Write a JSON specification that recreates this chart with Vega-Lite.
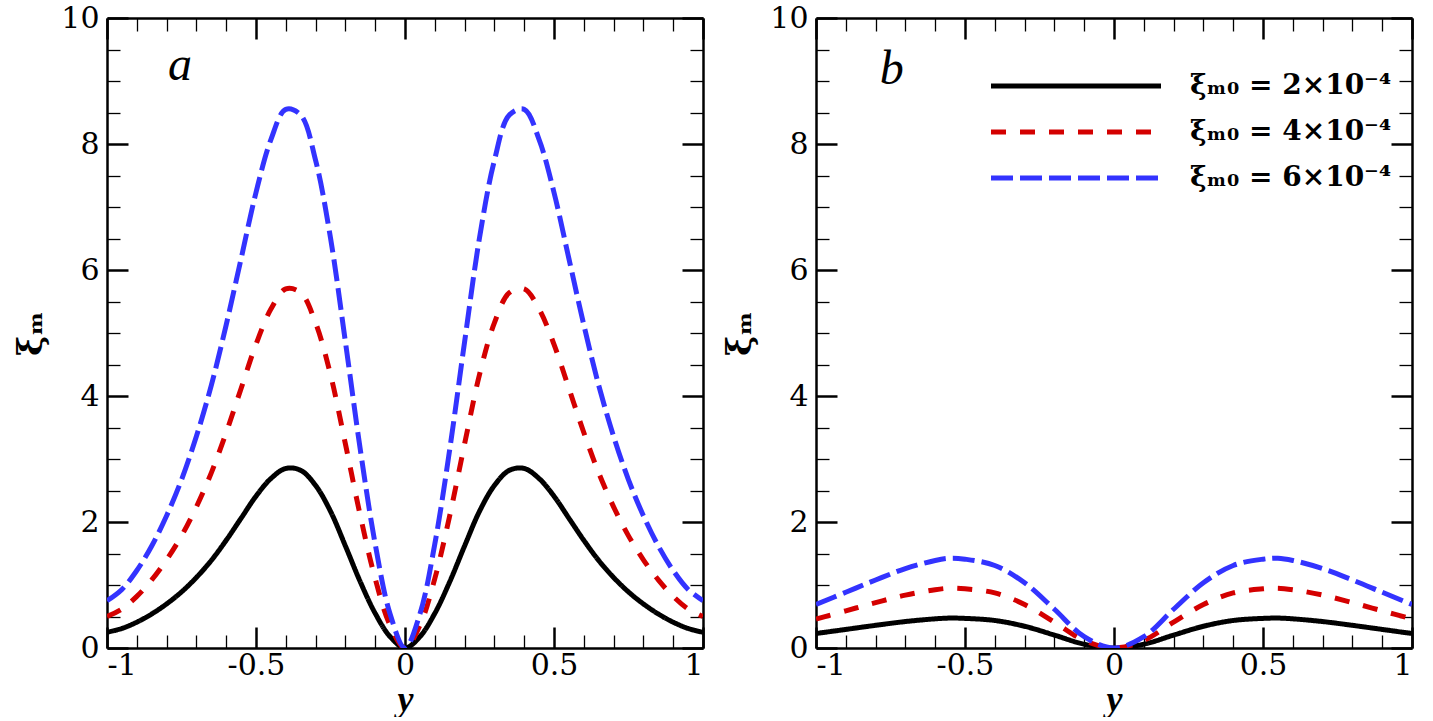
{
  "$schema": "https://vega.github.io/schema/vega-lite/v6.json",
  "description": "Two panels of xi_m against y for three xi_m0 values.",
  "padding": {"left": 14, "top": 3, "right": 5, "bottom": 0},
  "spacing": 17,
  "datasets": {
    "a": [
      {"y": -1, "xi": 0.25, "k": "2"}, {"y": -0.95, "xi": 0.31, "k": "2"}, {"y": -0.9, "xi": 0.41, "k": "2"}, {"y": -0.85, "xi": 0.54, "k": "2"},
      {"y": -0.8, "xi": 0.70, "k": "2"}, {"y": -0.75, "xi": 0.89, "k": "2"}, {"y": -0.7, "xi": 1.12, "k": "2"}, {"y": -0.65, "xi": 1.39, "k": "2"},
      {"y": -0.6, "xi": 1.71, "k": "2"}, {"y": -0.55, "xi": 2.06, "k": "2"}, {"y": -0.5, "xi": 2.41, "k": "2"}, {"y": -0.45, "xi": 2.69, "k": "2"},
      {"y": -0.4, "xi": 2.85, "k": "2"}, {"y": -0.35, "xi": 2.82, "k": "2"}, {"y": -0.3, "xi": 2.58, "k": "2"}, {"y": -0.25, "xi": 2.17, "k": "2"},
      {"y": -0.2, "xi": 1.62, "k": "2"}, {"y": -0.15, "xi": 1.05, "k": "2"}, {"y": -0.1, "xi": 0.55, "k": "2"}, {"y": -0.05, "xi": 0.18, "k": "2"},
      {"y": 0, "xi": 0, "k": "2"},
      {"y": 0.05, "xi": 0.18, "k": "2"}, {"y": 0.1, "xi": 0.55, "k": "2"}, {"y": 0.15, "xi": 1.05, "k": "2"}, {"y": 0.2, "xi": 1.62, "k": "2"},
      {"y": 0.25, "xi": 2.17, "k": "2"}, {"y": 0.3, "xi": 2.58, "k": "2"}, {"y": 0.35, "xi": 2.82, "k": "2"}, {"y": 0.4, "xi": 2.85, "k": "2"},
      {"y": 0.45, "xi": 2.69, "k": "2"}, {"y": 0.5, "xi": 2.41, "k": "2"}, {"y": 0.55, "xi": 2.06, "k": "2"}, {"y": 0.6, "xi": 1.71, "k": "2"},
      {"y": 0.65, "xi": 1.39, "k": "2"}, {"y": 0.7, "xi": 1.12, "k": "2"}, {"y": 0.75, "xi": 0.89, "k": "2"}, {"y": 0.8, "xi": 0.70, "k": "2"},
      {"y": 0.85, "xi": 0.54, "k": "2"}, {"y": 0.9, "xi": 0.41, "k": "2"}, {"y": 0.95, "xi": 0.31, "k": "2"}, {"y": 1, "xi": 0.25, "k": "2"},

      {"y": -1, "xi": 0.50, "k": "4"}, {"y": -0.95, "xi": 0.62, "k": "4"}, {"y": -0.9, "xi": 0.82, "k": "4"}, {"y": -0.85, "xi": 1.08, "k": "4"},
      {"y": -0.8, "xi": 1.40, "k": "4"}, {"y": -0.75, "xi": 1.78, "k": "4"}, {"y": -0.7, "xi": 2.24, "k": "4"}, {"y": -0.65, "xi": 2.78, "k": "4"},
      {"y": -0.6, "xi": 3.42, "k": "4"}, {"y": -0.55, "xi": 4.12, "k": "4"}, {"y": -0.5, "xi": 4.82, "k": "4"}, {"y": -0.45, "xi": 5.38, "k": "4"},
      {"y": -0.4, "xi": 5.70, "k": "4"}, {"y": -0.35, "xi": 5.64, "k": "4"}, {"y": -0.3, "xi": 5.16, "k": "4"}, {"y": -0.25, "xi": 4.34, "k": "4"},
      {"y": -0.2, "xi": 3.24, "k": "4"}, {"y": -0.15, "xi": 2.10, "k": "4"}, {"y": -0.1, "xi": 1.10, "k": "4"}, {"y": -0.05, "xi": 0.36, "k": "4"},
      {"y": 0, "xi": 0, "k": "4"},
      {"y": 0.05, "xi": 0.36, "k": "4"}, {"y": 0.1, "xi": 1.10, "k": "4"}, {"y": 0.15, "xi": 2.10, "k": "4"}, {"y": 0.2, "xi": 3.24, "k": "4"},
      {"y": 0.25, "xi": 4.34, "k": "4"}, {"y": 0.3, "xi": 5.16, "k": "4"}, {"y": 0.35, "xi": 5.64, "k": "4"}, {"y": 0.4, "xi": 5.70, "k": "4"},
      {"y": 0.45, "xi": 5.38, "k": "4"}, {"y": 0.5, "xi": 4.82, "k": "4"}, {"y": 0.55, "xi": 4.12, "k": "4"}, {"y": 0.6, "xi": 3.42, "k": "4"},
      {"y": 0.65, "xi": 2.78, "k": "4"}, {"y": 0.7, "xi": 2.24, "k": "4"}, {"y": 0.75, "xi": 1.78, "k": "4"}, {"y": 0.8, "xi": 1.40, "k": "4"},
      {"y": 0.85, "xi": 1.08, "k": "4"}, {"y": 0.9, "xi": 0.82, "k": "4"}, {"y": 0.95, "xi": 0.62, "k": "4"}, {"y": 1, "xi": 0.50, "k": "4"},

      {"y": -1, "xi": 0.75, "k": "6"}, {"y": -0.95, "xi": 0.93, "k": "6"}, {"y": -0.9, "xi": 1.23, "k": "6"}, {"y": -0.85, "xi": 1.62, "k": "6"},
      {"y": -0.8, "xi": 2.10, "k": "6"}, {"y": -0.75, "xi": 2.67, "k": "6"}, {"y": -0.7, "xi": 3.36, "k": "6"}, {"y": -0.65, "xi": 4.17, "k": "6"},
      {"y": -0.6, "xi": 5.13, "k": "6"}, {"y": -0.55, "xi": 6.18, "k": "6"}, {"y": -0.5, "xi": 7.23, "k": "6"}, {"y": -0.45, "xi": 8.07, "k": "6"},
      {"y": -0.4, "xi": 8.55, "k": "6"}, {"y": -0.35, "xi": 8.46, "k": "6"}, {"y": -0.3, "xi": 7.74, "k": "6"}, {"y": -0.25, "xi": 6.51, "k": "6"},
      {"y": -0.2, "xi": 4.86, "k": "6"}, {"y": -0.15, "xi": 3.15, "k": "6"}, {"y": -0.1, "xi": 1.65, "k": "6"}, {"y": -0.05, "xi": 0.54, "k": "6"},
      {"y": 0, "xi": 0, "k": "6"},
      {"y": 0.05, "xi": 0.54, "k": "6"}, {"y": 0.1, "xi": 1.65, "k": "6"}, {"y": 0.15, "xi": 3.15, "k": "6"}, {"y": 0.2, "xi": 4.86, "k": "6"},
      {"y": 0.25, "xi": 6.51, "k": "6"}, {"y": 0.3, "xi": 7.74, "k": "6"}, {"y": 0.35, "xi": 8.46, "k": "6"}, {"y": 0.4, "xi": 8.55, "k": "6"},
      {"y": 0.45, "xi": 8.07, "k": "6"}, {"y": 0.5, "xi": 7.23, "k": "6"}, {"y": 0.55, "xi": 6.18, "k": "6"}, {"y": 0.6, "xi": 5.13, "k": "6"},
      {"y": 0.65, "xi": 4.17, "k": "6"}, {"y": 0.7, "xi": 3.36, "k": "6"}, {"y": 0.75, "xi": 2.67, "k": "6"}, {"y": 0.8, "xi": 2.10, "k": "6"},
      {"y": 0.85, "xi": 1.62, "k": "6"}, {"y": 0.9, "xi": 1.23, "k": "6"}, {"y": 0.95, "xi": 0.93, "k": "6"}, {"y": 1, "xi": 0.75, "k": "6"}
    ],
    "b": [
      {"y": -1, "xi": 0.23, "k": "2"}, {"y": -0.9, "xi": 0.295, "k": "2"}, {"y": -0.8, "xi": 0.36, "k": "2"}, {"y": -0.7, "xi": 0.42, "k": "2"},
      {"y": -0.6, "xi": 0.463, "k": "2"}, {"y": -0.55, "xi": 0.475, "k": "2"}, {"y": -0.5, "xi": 0.47, "k": "2"}, {"y": -0.4, "xi": 0.437, "k": "2"},
      {"y": -0.3, "xi": 0.345, "k": "2"}, {"y": -0.2, "xi": 0.205, "k": "2"}, {"y": -0.1, "xi": 0.06, "k": "2"}, {"y": 0, "xi": 0, "k": "2"},
      {"y": 0.1, "xi": 0.06, "k": "2"}, {"y": 0.2, "xi": 0.205, "k": "2"}, {"y": 0.3, "xi": 0.345, "k": "2"}, {"y": 0.4, "xi": 0.437, "k": "2"},
      {"y": 0.5, "xi": 0.47, "k": "2"}, {"y": 0.55, "xi": 0.475, "k": "2"}, {"y": 0.6, "xi": 0.463, "k": "2"}, {"y": 0.7, "xi": 0.42, "k": "2"},
      {"y": 0.8, "xi": 0.36, "k": "2"}, {"y": 0.9, "xi": 0.295, "k": "2"}, {"y": 1, "xi": 0.23, "k": "2"},

      {"y": -1, "xi": 0.46, "k": "4"}, {"y": -0.9, "xi": 0.59, "k": "4"}, {"y": -0.8, "xi": 0.72, "k": "4"}, {"y": -0.7, "xi": 0.84, "k": "4"},
      {"y": -0.6, "xi": 0.926, "k": "4"}, {"y": -0.55, "xi": 0.95, "k": "4"}, {"y": -0.5, "xi": 0.94, "k": "4"}, {"y": -0.4, "xi": 0.874, "k": "4"},
      {"y": -0.3, "xi": 0.69, "k": "4"}, {"y": -0.2, "xi": 0.41, "k": "4"}, {"y": -0.1, "xi": 0.12, "k": "4"}, {"y": 0, "xi": 0, "k": "4"},
      {"y": 0.1, "xi": 0.12, "k": "4"}, {"y": 0.2, "xi": 0.41, "k": "4"}, {"y": 0.3, "xi": 0.69, "k": "4"}, {"y": 0.4, "xi": 0.874, "k": "4"},
      {"y": 0.5, "xi": 0.94, "k": "4"}, {"y": 0.55, "xi": 0.95, "k": "4"}, {"y": 0.6, "xi": 0.926, "k": "4"}, {"y": 0.7, "xi": 0.84, "k": "4"},
      {"y": 0.8, "xi": 0.72, "k": "4"}, {"y": 0.9, "xi": 0.59, "k": "4"}, {"y": 1, "xi": 0.46, "k": "4"},

      {"y": -1, "xi": 0.69, "k": "6"}, {"y": -0.9, "xi": 0.885, "k": "6"}, {"y": -0.8, "xi": 1.08, "k": "6"}, {"y": -0.7, "xi": 1.26, "k": "6"},
      {"y": -0.6, "xi": 1.39, "k": "6"}, {"y": -0.55, "xi": 1.425, "k": "6"}, {"y": -0.5, "xi": 1.41, "k": "6"}, {"y": -0.4, "xi": 1.31, "k": "6"},
      {"y": -0.3, "xi": 1.035, "k": "6"}, {"y": -0.2, "xi": 0.615, "k": "6"}, {"y": -0.1, "xi": 0.18, "k": "6"}, {"y": 0, "xi": 0, "k": "6"},
      {"y": 0.1, "xi": 0.18, "k": "6"}, {"y": 0.2, "xi": 0.615, "k": "6"}, {"y": 0.3, "xi": 1.035, "k": "6"}, {"y": 0.4, "xi": 1.31, "k": "6"},
      {"y": 0.5, "xi": 1.41, "k": "6"}, {"y": 0.55, "xi": 1.425, "k": "6"}, {"y": 0.6, "xi": 1.39, "k": "6"}, {"y": 0.7, "xi": 1.26, "k": "6"},
      {"y": 0.8, "xi": 1.08, "k": "6"}, {"y": 0.9, "xi": 0.885, "k": "6"}, {"y": 1, "xi": 0.69, "k": "6"}
    ]
  },
  "hconcat": [
    {
      "width": 596,
      "height": 630,
      "data": {"name": "a"},
      "resolve": {"axis": {"x": "independent", "y": "independent"}},
      "layer": [
        {
          "mark": {"type": "line", "interpolate": "catmull-rom", "strokeWidth": 5, "clip": true},
          "encoding": {
            "x": {"field": "y", "type": "quantitative", "scale": {"domain": [-1, 1], "nice": false},
              "axis": {"orient": "bottom", "values": [-1, -0.5, 0, 0.5, 1], "tickSize": -21, "tickWidth": 2.5, "labelPadding": 23, "labelExpr": "'' + datum.value", "labelFont": "DejaVu Serif", "labelFontSize": 30, "title": "y", "titleFont": "Liberation Serif", "titleFontStyle": "italic", "titleFontWeight": "bold", "titleFontSize": 36, "titlePadding": 2}},
            "y": {"field": "xi", "type": "quantitative", "scale": {"domain": [0, 10], "nice": false},
              "axis": {"orient": "left", "values": [0, 2, 4, 6, 8, 10], "tickSize": -21, "tickWidth": 2.5, "labelPadding": 29, "labelFont": "DejaVu Serif", "labelFontSize": 30, "title": "ξₘ", "titleFont": "DejaVu Serif", "titleFontWeight": "bold", "titleFontSize": 34, "titlePadding": 12}},
            "color": {"field": "k", "type": "nominal", "scale": {"domain": ["2", "4", "6"], "range": ["#000000", "#d40000", "#3333ff"]}, "legend": null},
            "strokeDash": {"field": "k", "type": "nominal", "scale": {"domain": ["2", "4", "6"], "range": [[1, 0], [15, 14], [22, 7]]}, "legend": null}
          }
        },
        {
          "mark": {"type": "point", "opacity": 0},
          "encoding": {
            "x": {"field": "y", "type": "quantitative", "axis": {"orient": "bottom", "values": [-0.9, -0.8, -0.7, -0.6, -0.4, -0.3, -0.2, -0.1, 0.1, 0.2, 0.3, 0.4, 0.6, 0.7, 0.8, 0.9], "tickSize": -13, "tickWidth": 1.3, "labels": false, "domain": false, "title": null}},
            "y": {"field": "xi", "type": "quantitative", "axis": {"orient": "left", "values": [0.5, 1, 1.5, 2.5, 3, 3.5, 4.5, 5, 5.5, 6.5, 7, 7.5, 8.5, 9, 9.5], "tickSize": -13, "tickWidth": 1.3, "labels": false, "domain": false, "title": null}}
          }
        },
        {
          "mark": {"type": "point", "opacity": 0},
          "encoding": {
            "x": {"field": "y", "type": "quantitative", "axis": {"orient": "top", "values": [-1, -0.5, 0, 0.5, 1], "tickSize": -21, "tickWidth": 2.5, "labels": false, "title": null}},
            "y": {"field": "xi", "type": "quantitative", "axis": {"orient": "right", "values": [0, 2, 4, 6, 8, 10], "tickSize": -21, "tickWidth": 2.5, "labels": false, "title": null}}
          }
        },
        {
          "mark": {"type": "point", "opacity": 0},
          "encoding": {
            "x": {"field": "y", "type": "quantitative", "axis": {"orient": "top", "values": [-0.9, -0.8, -0.7, -0.6, -0.4, -0.3, -0.2, -0.1, 0.1, 0.2, 0.3, 0.4, 0.6, 0.7, 0.8, 0.9], "tickSize": -13, "tickWidth": 1.3, "labels": false, "domain": false, "title": null}},
            "y": {"field": "xi", "type": "quantitative", "axis": {"orient": "right", "values": [0.5, 1, 1.5, 2.5, 3, 3.5, 4.5, 5, 5.5, 6.5, 7, 7.5, 8.5, 9, 9.5], "tickSize": -13, "tickWidth": 1.3, "labels": false, "domain": false, "title": null}}
          }
        },
        {
          "data": {"values": [{}]},
          "mark": {"type": "text", "font": "Liberation Serif", "fontStyle": "italic", "fontSize": 48, "align": "center", "baseline": "alphabetic"},
          "encoding": {
            "x": {"datum": -0.755, "type": "quantitative", "axis": null},
            "y": {"datum": 9.02, "type": "quantitative", "axis": null},
            "text": {"value": "a"}
          }
        }
      ]
    },
    {
      "width": 596,
      "height": 630,
      "data": {"name": "b"},
      "resolve": {"axis": {"x": "independent", "y": "independent"}},
      "layer": [
        {
          "mark": {"type": "line", "interpolate": "catmull-rom", "strokeWidth": 5, "clip": true},
          "encoding": {
            "x": {"field": "y", "type": "quantitative", "scale": {"domain": [-1, 1], "nice": false},
              "axis": {"orient": "bottom", "values": [-1, -0.5, 0, 0.5, 1], "tickSize": -21, "tickWidth": 2.5, "labelPadding": 23, "labelExpr": "'' + datum.value", "labelFont": "DejaVu Serif", "labelFontSize": 30, "title": "y", "titleFont": "Liberation Serif", "titleFontStyle": "italic", "titleFontWeight": "bold", "titleFontSize": 36, "titlePadding": 2}},
            "y": {"field": "xi", "type": "quantitative", "scale": {"domain": [0, 10], "nice": false},
              "axis": {"orient": "left", "values": [0, 2, 4, 6, 8, 10], "tickSize": -21, "tickWidth": 2.5, "labelPadding": 29, "labelFont": "DejaVu Serif", "labelFontSize": 30, "title": "ξₘ", "titleFont": "DejaVu Serif", "titleFontWeight": "bold", "titleFontSize": 34, "titlePadding": 12}},
            "color": {"field": "k", "type": "nominal", "scale": {"domain": ["2", "4", "6"], "range": ["#000000", "#d40000", "#3333ff"]},
              "legend": {"orient": "none", "legendX": 246, "legendY": 54, "title": null, "symbolType": "M-10,0H10", "symbolSize": 289, "symbolStrokeWidth": 5, "labelFont": "DejaVu Serif", "labelFontSize": 28, "labelFontWeight": "bold", "labelColor": "black", "labelOffset": 100, "rowPadding": 18, "padding": 0, "labelLimit": 0, "labelExpr": "'ξₘ₀ = ' + datum.label + '×10⁻⁴'"}},
            "strokeDash": {"field": "k", "type": "nominal", "scale": {"domain": ["2", "4", "6"], "range": [[1, 0], [15, 14], [22, 7]]},
              "legend": {"orient": "none", "legendX": 246, "legendY": 54, "title": null, "symbolType": "M-10,0H10", "symbolSize": 289, "symbolStrokeWidth": 5, "labelFont": "DejaVu Serif", "labelFontSize": 28, "labelFontWeight": "bold", "labelColor": "black", "labelOffset": 100, "rowPadding": 18, "padding": 0, "labelLimit": 0, "labelExpr": "'ξₘ₀ = ' + datum.label + '×10⁻⁴'"}}
          }
        },
        {
          "mark": {"type": "point", "opacity": 0},
          "encoding": {
            "x": {"field": "y", "type": "quantitative", "axis": {"orient": "bottom", "values": [-0.9, -0.8, -0.7, -0.6, -0.4, -0.3, -0.2, -0.1, 0.1, 0.2, 0.3, 0.4, 0.6, 0.7, 0.8, 0.9], "tickSize": -13, "tickWidth": 1.3, "labels": false, "domain": false, "title": null}},
            "y": {"field": "xi", "type": "quantitative", "axis": {"orient": "left", "values": [0.5, 1, 1.5, 2.5, 3, 3.5, 4.5, 5, 5.5, 6.5, 7, 7.5, 8.5, 9, 9.5], "tickSize": -13, "tickWidth": 1.3, "labels": false, "domain": false, "title": null}}
          }
        },
        {
          "mark": {"type": "point", "opacity": 0},
          "encoding": {
            "x": {"field": "y", "type": "quantitative", "axis": {"orient": "top", "values": [-1, -0.5, 0, 0.5, 1], "tickSize": -21, "tickWidth": 2.5, "labels": false, "title": null}},
            "y": {"field": "xi", "type": "quantitative", "axis": {"orient": "right", "values": [0, 2, 4, 6, 8, 10], "tickSize": -21, "tickWidth": 2.5, "labels": false, "title": null}}
          }
        },
        {
          "mark": {"type": "point", "opacity": 0},
          "encoding": {
            "x": {"field": "y", "type": "quantitative", "axis": {"orient": "top", "values": [-0.9, -0.8, -0.7, -0.6, -0.4, -0.3, -0.2, -0.1, 0.1, 0.2, 0.3, 0.4, 0.6, 0.7, 0.8, 0.9], "tickSize": -13, "tickWidth": 1.3, "labels": false, "domain": false, "title": null}},
            "y": {"field": "xi", "type": "quantitative", "axis": {"orient": "right", "values": [0.5, 1, 1.5, 2.5, 3, 3.5, 4.5, 5, 5.5, 6.5, 7, 7.5, 8.5, 9, 9.5], "tickSize": -13, "tickWidth": 1.3, "labels": false, "domain": false, "title": null}}
          }
        },
        {
          "data": {"values": [{}]},
          "mark": {"type": "text", "font": "Liberation Serif", "fontStyle": "italic", "fontSize": 48, "align": "center", "baseline": "alphabetic"},
          "encoding": {
            "x": {"datum": -0.746, "type": "quantitative", "axis": null},
            "y": {"datum": 8.95, "type": "quantitative", "axis": null},
            "text": {"value": "b"}
          }
        }
      ]
    }
  ],
  "resolve": {"scale": {"color": "independent", "strokeDash": "independent"}},
  "config": {
    "view": {"stroke": null},
    "font": "DejaVu Serif",
    "axis": {
      "grid": false,
      "labelColor": "black",
      "domainColor": "black",
      "domainWidth": 2.5,
      "tickColor": "black",
      "titleColor": "black"
    }
  }
}
